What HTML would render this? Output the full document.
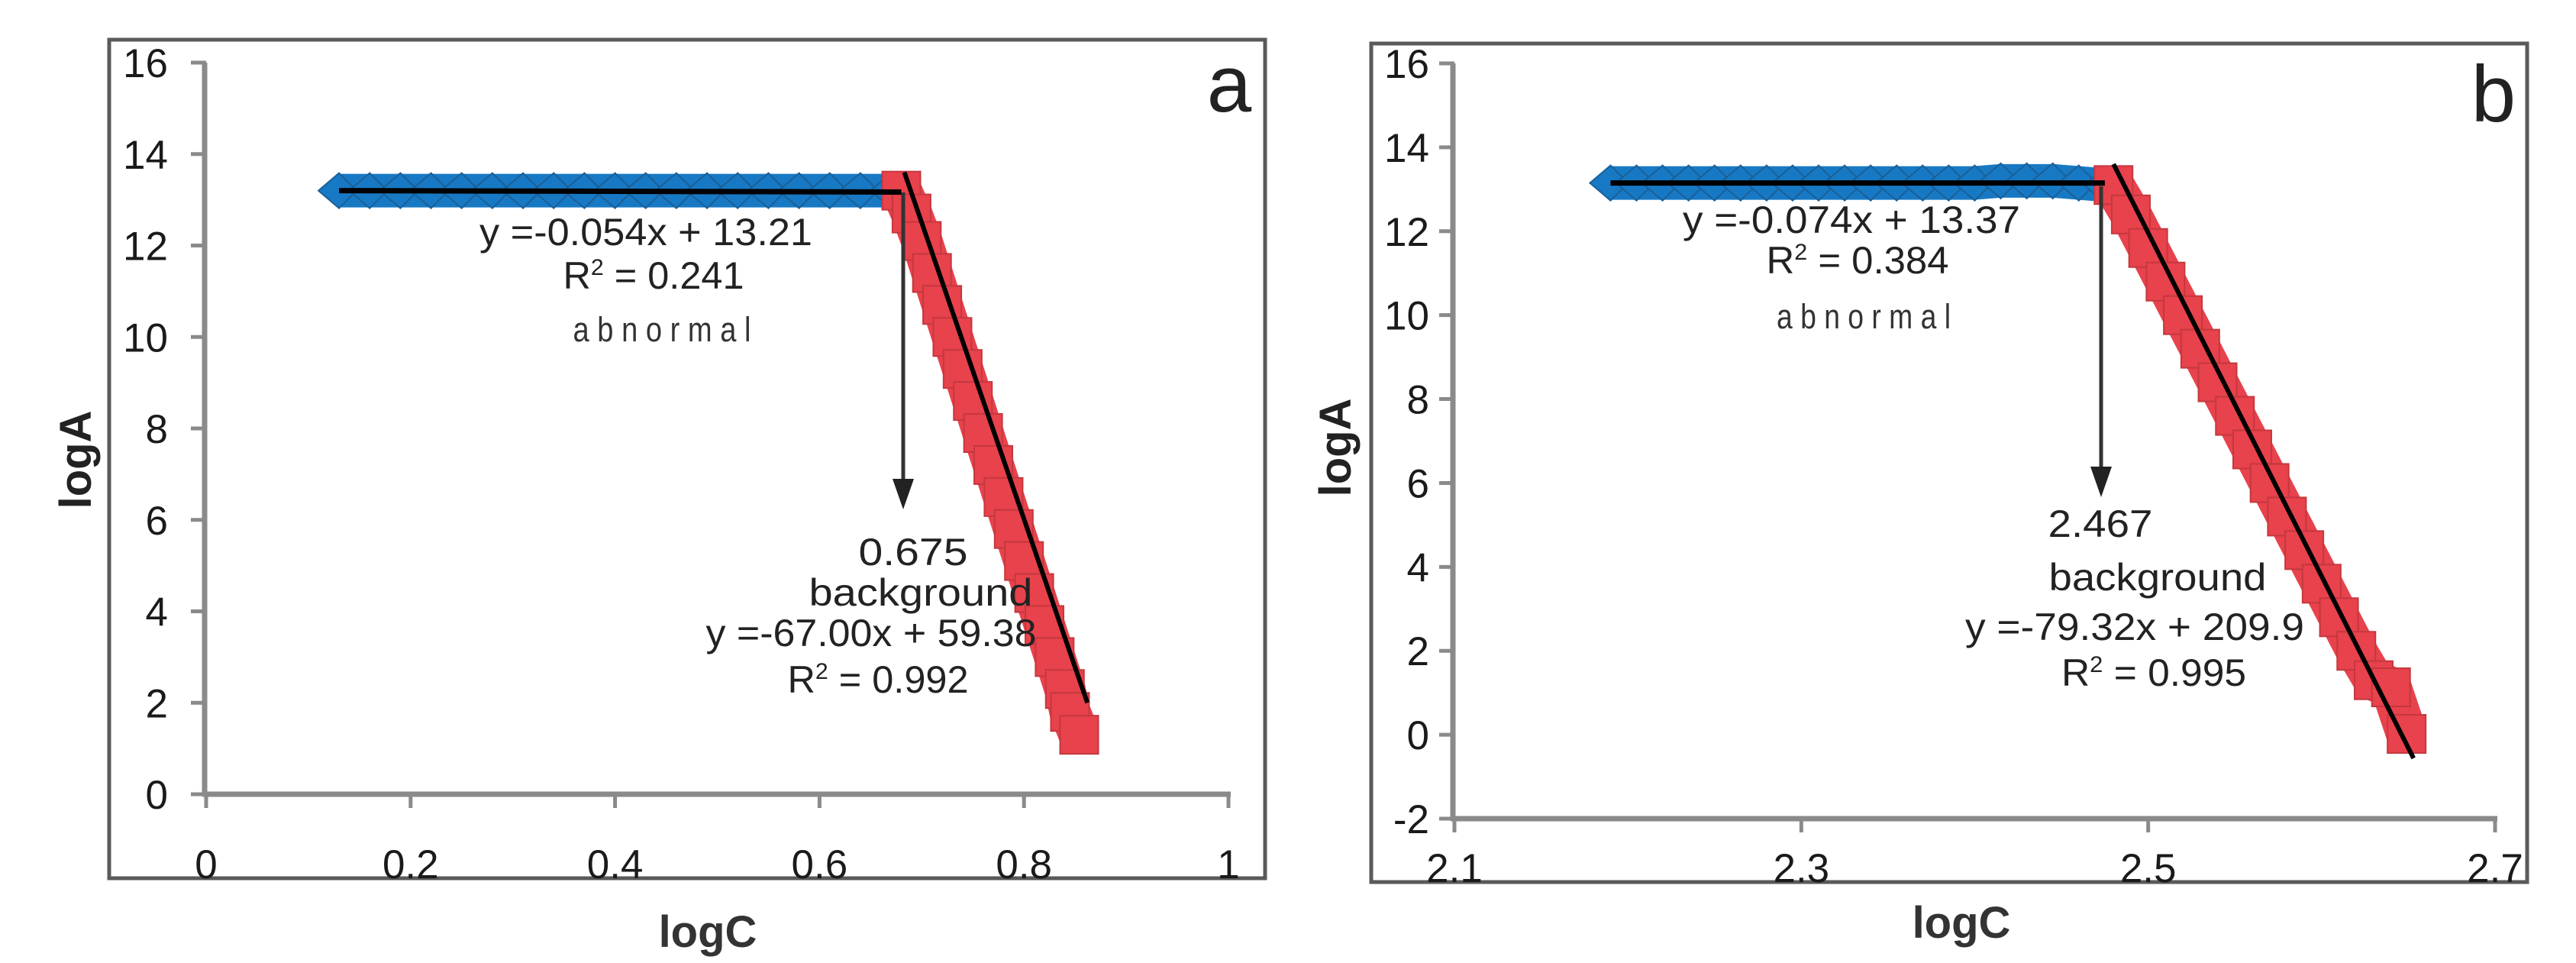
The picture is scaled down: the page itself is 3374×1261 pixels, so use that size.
<!DOCTYPE html>
<html><head><meta charset="utf-8"><style>
html,body{margin:0;padding:0;background:#fff;}
svg{display:block;}
text{font-family:"Liberation Sans",sans-serif;}
</style></head><body>
<svg id="fig" width="3374" height="1261" viewBox="0 0 3374 1261" xmlns="http://www.w3.org/2000/svg">
<g id="pa"></g>
<g id="pb"></g>
</svg>
<script>
// Panel a data
const aXTicks = [0, 0.2, 0.4, 0.6, 0.8, 1];
const aXTickLabels = ["0", "0.2", "0.4", "0.6", "0.8", "1"];
const aYTicks = [0, 2, 4, 6, 8, 10, 12, 14, 16];
const aYTickLabels = ["0", "2", "4", "6", "8", "10", "12", "14", "16"];
const aBlueX = [0.13, 0.16, 0.19, 0.22, 0.25, 0.28, 0.31, 0.34, 0.37, 0.40, 0.43, 0.46, 0.49, 0.52, 0.55, 0.58, 0.61, 0.64, 0.67];
const aBlueY = [13.2, 13.2, 13.2, 13.2, 13.2, 13.2, 13.2, 13.2, 13.2, 13.2, 13.2, 13.2, 13.2, 13.2, 13.2, 13.2, 13.2, 13.2, 13.2];
const aRedX = [0.68, 0.69, 0.70, 0.71, 0.72, 0.73, 0.74, 0.75, 0.76, 0.77, 0.78, 0.79, 0.80, 0.81, 0.82, 0.83, 0.84, 0.845, 0.854];
const aRedY = [13.2, 12.7, 12.1, 11.4, 10.7, 10.0, 9.3, 8.6, 7.9, 7.2, 6.5, 5.8, 5.1, 4.4, 3.7, 3.0, 2.3, 1.8, 1.3];
const aFit1X = [0.13, 0.68];
const aFit1Y = [13.2, 13.17];
const aFit2X = [0.683, 0.862];
const aFit2Y = [13.6, 2.0];

// Panel b data
const bXTicks = [2.1, 2.3, 2.5, 2.7];
const bXTickLabels = ["2.1", "2.3", "2.5", "2.7"];
const bYTicks = [-2, 0, 2, 4, 6, 8, 10, 12, 14, 16];
const bYTickLabels = ["-2", "0", "2", "4", "6", "8", "10", "12", "14", "16"];
const bBlueX = [2.19, 2.205, 2.22, 2.235, 2.25, 2.265, 2.28, 2.295, 2.31, 2.325, 2.34, 2.355, 2.37, 2.385, 2.40, 2.415, 2.43, 2.445, 2.46, 2.475];
const bBlueY = [13.15, 13.15, 13.15, 13.15, 13.15, 13.15, 13.15, 13.15, 13.15, 13.15, 13.15, 13.15, 13.15, 13.15, 13.15, 13.2, 13.2, 13.2, 13.15, 13.1];
const bRedX = [2.48, 2.49, 2.50, 2.51, 2.52, 2.53, 2.54, 2.55, 2.56, 2.57, 2.58, 2.59, 2.60, 2.61, 2.62, 2.63, 2.64, 2.649];
const bRedY = [13.1, 12.4, 11.6, 10.8, 10.0, 9.2, 8.4, 7.6, 6.8, 6.0, 5.2, 4.4, 3.6, 2.8, 2.0, 1.3, 1.13, 0.02];
const bFit1X = [2.19, 2.475];
const bFit1Y = [13.15, 13.15];
const bFit2X = [2.48, 2.653];
const bFit2Y = [13.6, -0.56];

const NS = "http://www.w3.org/2000/svg";
function mk(parent, tag, attrs, txt) {
  const e = document.createElementNS(NS, tag);
  for (const k in attrs) e.setAttribute(k, attrs[k]);
  if (txt !== undefined) e.textContent = txt;
  parent.appendChild(e);
  return e;
}

function drawPanel(g, cfg) {
  const sx = v => cfg.px0 + (v - cfg.x0) / (cfg.x1 - cfg.x0) * (cfg.px1 - cfg.px0);
  const sy = v => cfg.py0 + (v - cfg.y0) / (cfg.y1 - cfg.y0) * (cfg.py1 - cfg.py0);
  const fr = mk(g, "rect", {x: cfg.frame[0], y: cfg.frame[1], width: cfg.frame[2] - cfg.frame[0], height: cfg.frame[3] - cfg.frame[1], fill: "none", stroke: "#5a5a5a", "stroke-width": 5});
  
  
  const ax = mk(g, "g", {});
  
  
  const yl = mk(ax, "line", {x1: cfg.px0 - 2, y1: sy(cfg.y1), x2: cfg.px0 - 2, y2: cfg.py0, stroke: "#8a8a8a", "stroke-width": 7});
  
  
  const xl = mk(ax, "line", {x1: cfg.px0 - 5, y1: cfg.py0, x2: cfg.px1 + 3, y2: cfg.py0, stroke: "#8a8a8a", "stroke-width": 7});
  
  
  cfg.yTicks.forEach((v, i) => {
    const t = mk(ax, "line", {x1: cfg.px0 - 20, y1: sy(v), x2: cfg.px0, y2: sy(v), stroke: "#8a8a8a", "stroke-width": 5});
    
    
    const l = mk(ax, "text", {x: cfg.yLabelX, y: sy(v) + 19, "font-size": 53, "text-anchor": "end", fill: "#1a1a1a"}, cfg.yLabels[i]);
    
    
  });
  cfg.xTicks.forEach((v, i) => {
    const t = mk(ax, "line", {x1: sx(v), y1: cfg.py0, x2: sx(v), y2: cfg.py0 + 18, stroke: "#8a8a8a", "stroke-width": 5});
    
    
    const l = mk(ax, "text", {x: sx(v), y: cfg.xLabelY, "font-size": 53, "text-anchor": "middle", fill: "#1a1a1a"}, cfg.xLabels[i]);
    
    
  });
  const xt = mk(g, "text", {x: cfg.xTitle[0], y: cfg.xTitle[1], "font-size": 58, "font-weight": "bold", "text-anchor": "middle", fill: "#333"}, "logC");
  
  
  const yt = mk(g, "text", {x: 0, y: 0, "font-size": 58, "font-weight": "bold", "text-anchor": "middle", fill: "#222", transform: `translate(${cfg.yTitle[0] + 20},${cfg.yTitle[1]}) rotate(-90)`}, "logA");
  
  
  const pl = mk(g, "text", {x: cfg.letter[0], y: cfg.letter[1], "font-size": 105, "text-anchor": "middle", fill: "#222"}, cfg.letter[2]);
  
  

  const bs = mk(g, "g", {});
  
  
  const bpts = cfg.blueX.map((x, i) => sx(x) + "," + sy(cfg.blueY[i])).join(" ");
  const bband = mk(bs, "polyline", {points: bpts, fill: "none", stroke: "#1779c4", "stroke-width": 44, "stroke-linejoin": "round"});
  
  
  cfg.blueX.forEach((x, i) => {
    const cx = sx(x), cy = sy(cfg.blueY[i]), r = 23;
    const d = mk(bs, "polygon", {points: `${cx - r - 4},${cy} ${cx},${cy - r} ${cx + r},${cy} ${cx},${cy + r}`, fill: "#1779c4", stroke: "#1a5f96", "stroke-width": 2});
    
    
  });
  const rs = mk(g, "g", {});
  
  
  const rpts = cfg.redX.map((x, i) => sx(x) + "," + sy(cfg.redY[i])).join(" ");
  const rband = mk(rs, "polyline", {points: rpts, fill: "none", stroke: "#e8424c", "stroke-width": 54});
  
  
  cfg.redX.forEach((x, i) => {
    const s = 50;
    const r = mk(rs, "rect", {x: sx(x) - s / 2, y: sy(cfg.redY[i]) - s / 2, width: s, height: s, fill: "#e8424c", stroke: "#c4383f", "stroke-width": 2});
    
    
  });
  const f1 = mk(g, "line", {x1: sx(cfg.fit1X[0]), y1: sy(cfg.fit1Y[0]), x2: sx(cfg.fit1X[1]), y2: sy(cfg.fit1Y[1]), stroke: "#000", "stroke-width": 7});
  
  
  const f2 = mk(g, "line", {x1: sx(cfg.fit2X[0]), y1: sy(cfg.fit2Y[0]), x2: sx(cfg.fit2X[1]), y2: sy(cfg.fit2Y[1]), stroke: "#000", "stroke-width": 6});
  
  
  const A = cfg.arrow;
  const al = mk(g, "line", {x1: A[0], y1: A[1], x2: A[0], y2: A[2] - 30, stroke: "#333", "stroke-width": 5});
  
  
  const ah = mk(g, "polygon", {points: `${A[0] - 14},${A[2] - 40} ${A[0] + 14},${A[2] - 40} ${A[0]},${A[2]}`, fill: "#222"});
  
  
  cfg.notes.forEach(n => {
    const attrs = {x: n[1], y: n[2], "font-size": n[4] || 50, "text-anchor": "middle", fill: n[5] || "#222", textLength: n[3], lengthAdjust: "spacingAndGlyphs"};
    const t = mk(g, "text", attrs);
    if (n[0].indexOf("R2") === 0) {
      t.appendChild(document.createTextNode("R"));
      const sp = document.createElementNS(NS, "tspan");
      sp.setAttribute("dy", "-18");
      sp.setAttribute("font-size", "30");
      sp.textContent = "2";
      t.appendChild(sp);
      const sp2 = document.createElementNS(NS, "tspan");
      sp2.setAttribute("dy", "18");
      sp2.textContent = n[0].slice(2);
      t.appendChild(sp2);
    } else {
      t.textContent = n[0];
    }
    
    
  });
}

drawPanel(document.getElementById("pa"), {
  x0: 0, x1: 1, px0: 270, px1: 1609, y0: 0, y1: 16, py0: 1040, py1: 82,
  frame: [143, 52, 1657, 1150],
  xTicks: aXTicks, xLabels: aXTickLabels, yTicks: aYTicks, yLabels: aYTickLabels,
  yLabelX: 220, xLabelY: 1150, xTitle: [927, 1240], yTitle: [99, 602], letter: [1610, 146, "a"],
  blueX: aBlueX, blueY: aBlueY, redX: aRedX, redY: aRedY,
  fit1X: aFit1X, fit1Y: aFit1Y, fit2X: aFit2X, fit2Y: aFit2Y,
  arrow: [1183, 252, 667],
  notes: [
    ["y =-0.054x + 13.21", 846, 321, 436],
    ["R2 = 0.241", 856, 378, 237],
    ["a b n o r m a l", 867, 447, 233, 45, "#333"],
    ["0.675", 1196, 740, 143],
    ["background", 1206, 793, 293],
    ["y =-67.00x + 59.38", 1141, 846, 433],
    ["R2 = 0.992", 1150, 907, 237]
  ]
});

drawPanel(document.getElementById("pb"), {
  x0: 2.1, x1: 2.7, px0: 1905, px1: 3268, y0: -2, y1: 16, py0: 1072, py1: 83,
  frame: [1796, 57, 3310, 1155],
  xTicks: bXTicks, xLabels: bXTickLabels, yTicks: bYTicks, yLabels: bYTickLabels,
  yLabelX: 1872, xLabelY: 1155, xTitle: [2569, 1228], yTitle: [1749, 586], letter: [3266, 159, "b"],
  blueX: bBlueX, blueY: bBlueY, redX: bRedX, redY: bRedY,
  fit1X: bFit1X, fit1Y: bFit1Y, fit2X: bFit2X, fit2Y: bFit2Y,
  arrow: [2752, 244, 651],
  notes: [
    ["y =-0.074x + 13.37", 2425, 305, 442],
    ["R2 = 0.384", 2433, 358, 239],
    ["a b n o r m a l", 2441, 430, 228, 45, "#333"],
    ["2.467", 2751, 703, 137],
    ["background", 2826, 773, 285],
    ["y =-79.32x + 209.9", 2796, 838, 444],
    ["R2 = 0.995", 2821, 898, 242]
  ]
});
</script>
</body></html>
